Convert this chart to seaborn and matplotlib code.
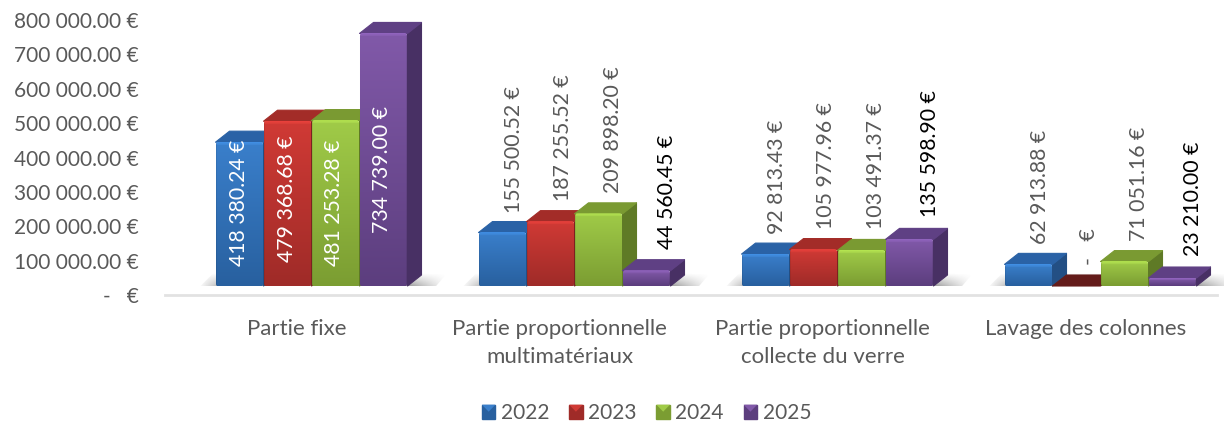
import numpy as np
import pandas as pd
import seaborn as sns
import matplotlib
matplotlib.use("Agg")
import matplotlib.pyplot as plt
from matplotlib.patches import Polygon, Patch, FancyBboxPatch
from matplotlib.transforms import IdentityTransform
from matplotlib.colors import to_rgb

# ---- data ----
categories = ["Partie fixe", "Partie proportionnelle\nmultimatériaux",
              "Partie proportionnelle\ncollecte du verre", "Lavage des colonnes"]
years = ["2022", "2023", "2024", "2025"]
values_2022 = [418380.24, 155500.52, 92813.43, 62913.88]
values_2023 = [479368.68, 187255.52, 105977.96, 0.0]
values_2024 = [481253.28, 209898.20, 103491.37, 71051.16]
values_2025 = [734739.00, 44560.45, 135598.90, 23210.00]
y_ticks = [0, 100000, 200000, 300000, 400000, 500000, 600000, 700000, 800000]

# ---- styles ----
front_top = ["#3a7fcb", "#d03a35", "#a0cb48", "#8159a9"]
front_bot = ["#28609f", "#9f2b28", "#7b9d32", "#5c3e7e"]
top_col = ["#2a62a6", "#a32c28", "#7a9a32", "#5f4084"]
side_col = ["#234f84", "#7c211f", "#5f7a26", "#483064"]
grey = "#595959"
FONT = ["Lato", "DejaVu Sans"]
plt.rcParams["font.family"] = FONT

W, H = 1224, 425
DX, DY = 14, 11


def frac(l, t, r, b):
    return [l / W, 1 - b / H, (r - l) / W, (b - t) / H]


def fmt(v):
    if v == 0:
        return "-   €"
    return f"{v:,.2f}".replace(",", " ") + " €"


df = pd.DataFrame({
    "cat": categories * 4,
    "year": np.repeat(years, 4),
    "value": values_2022 + values_2023 + values_2024 + values_2025,
})

sns.set_theme(style="white")
plt.rcParams["font.family"] = FONT
fig = plt.figure(figsize=(W / 100, H / 100), dpi=100, facecolor="white")

# Base axis: ticks, category labels, floor line
base = fig.add_axes(frac(165, 20, 1217, 295))
base.set_xlim(-0.5, 3.5)
base.set_ylim(0, 800000)
base.set_yticks(y_ticks)
base.set_yticklabels([fmt(v) for v in y_ticks], fontsize=15, color=grey)
base.set_xticks(range(4))
base.set_xticklabels(categories, fontsize=16, color=grey, linespacing=1.5)
base.tick_params(axis="y", length=0, pad=19)
base.tick_params(axis="x", length=0, pad=17)
for s in ("top", "left", "right"):
    base.spines[s].set_visible(False)
base.spines["bottom"].set_color("#e2e2e2")
base.spines["bottom"].set_linewidth(2)

# Bars axis: front faces, shifted like the 3D floor
ax = fig.add_axes(frac(180, 11, 1232, 286))
ax.patch.set_alpha(0)
ax.set_axis_off()
sns.barplot(data=df, x="cat", y="value", hue="year", order=categories, hue_order=years,
            palette=front_top, width=0.73, gap=0, saturation=1, legend=False, ax=ax, zorder=3)
ax.set_xlim(-0.5, 3.5)
ax.set_ylim(0, 800000)
fig.canvas.draw()

to_px = ax.transData.transform
to_data = ax.transData.inverted().transform
bars = [p for c in ax.containers for p in c.patches]

# Floor shadows behind each group
for g in range(4):
    grp = [bars[g + 4 * s] for s in range(4)]
    x0 = to_px((grp[0].get_x(), 0))[0]
    x1 = to_px((grp[-1].get_x() + grp[-1].get_width(), 0))[0]
    y0 = to_px((0, 0))[1]
    pts = np.array([[x0 - 18, y0 - 3], [x1 + 26, y0 - 3], [x1 + 40, y0 + 13], [x0 - 2, y0 + 13]])
    nx, ny = 120, 20
    rgba = np.zeros((ny, nx, 4))
    rgba[..., :3] = 0.3
    vert = np.linspace(0.0, 0.85, ny)[:, None]
    ramp = np.clip(np.linspace(0, 1, nx) * 7, 0, 1) * np.clip(np.linspace(1, 0, nx) * 5, 0, 1)
    rgba[..., 3] = vert * ramp[None, :]
    (ax0, ay0) = to_data((pts[:, 0].min(), pts[:, 1].min()))
    (ax1, ay1) = to_data((pts[:, 0].max(), pts[:, 1].max()))
    im = ax.imshow(rgba, extent=(ax0, ax1, ay0, ay1), aspect="auto", zorder=1,
                   interpolation="bilinear")
    clip = Polygon(pts, closed=True, transform=IdentityTransform(), facecolor="none", edgecolor="none")
    im.set_clip_path(clip)

# 3D faces and gradient fronts
for s in range(4):
    for g in range(4):
        p = bars[g + 4 * s]
        z = 4 + s * 4
        xa, ya = to_px((p.get_x(), 0))
        xb, yb = to_px((p.get_x() + p.get_width(), p.get_height()))
        p.set_zorder(z)
        tc = top_col[s] if p.get_height() > 0 else "#641c1a"
        top = Polygon([(xa, yb), (xb, yb), (xb + DX, yb + DY), (xa + DX, yb + DY)],
                      closed=True, transform=IdentityTransform(), facecolor=tc,
                      edgecolor=tc, linewidth=0.8, joinstyle="round", zorder=z + 0.2, clip_on=False)
        side = Polygon([(xb, ya), (xb + DX, ya + DY), (xb + DX, yb + DY), (xb, yb)],
                       closed=True, transform=IdentityTransform(), facecolor=side_col[s],
                       edgecolor=side_col[s], linewidth=0.8, joinstyle="round", zorder=z + 0.1, clip_on=False)
        if p.get_height() > 0:
            ax.add_patch(side)
        ax.add_patch(top)
        h = int(round(yb - ya))
        if h > 0:
            w = max(int(round(xb - xa)), 2)
            t = np.linspace(0, 1, h)[:, None, None]
            c = np.array(to_rgb(front_top[s]))[None, None, :] * (1 - t) + \
                np.array(to_rgb(front_bot[s]))[None, None, :] * t
            c = np.repeat(c, w, axis=1)
            bevel = min(3, h // 3)
            for i in range(bevel):
                c[i, :, :] = np.clip(c[i, :, :] * (1.12 - i * 0.03), 0, 1)
            c[:, 0, :] *= 0.92
            c[:, -1, :] *= 0.92
            im = ax.imshow(c, extent=(p.get_x(), p.get_x() + p.get_width(), 0, p.get_height()),
                           aspect="auto", zorder=z + 0.3, interpolation="bilinear")
            clip = FancyBboxPatch((xa + 2, ya + 1), xb - xa - 4, yb - ya - 2,
                                  boxstyle="round,pad=1.5,rounding_size=2.5",
                                  transform=IdentityTransform(), facecolor="none", edgecolor="none")
            im.set_clip_path(clip)
            p.set_visible(False)
ax.set_xlim(-0.5, 3.5)
ax.set_ylim(0, 800000)

# Data labels
inside_shift = [-11, -5, 0, 10]  # px offset of the label from the front face's centre
outside_dx = [11, 12, 15, 21]
outside_gap = [9, 10, 10, 11]
for s in range(4):
    for g in range(4):
        p = bars[g + 4 * s]
        xa, ya = to_px((p.get_x(), 0))
        xb, yb = to_px((p.get_x() + p.get_width(), p.get_height()))
        txt = fmt(p.get_height())
        cx = (xa + xb) / 2
        if g == 0:
            ax.text(cx - 1, (ya + yb) / 2 - inside_shift[s], txt, rotation=90, ha="center",
                    va="center", color="white", fontsize=15.3,
                    transform=IdentityTransform(), zorder=50)
        else:
            col = "black" if s == 3 else grey
            ax.text(cx + outside_dx[s], yb + DY + outside_gap[s], txt, rotation=90, ha="center",
                    va="bottom", color=col, fontsize=15.3,
                    transform=IdentityTransform(), zorder=50)

# Legend
handles = [Patch(facecolor=front_bot[i], edgecolor=front_bot[i], label=years[i]) for i in range(4)]
leg = fig.legend(handles=handles, loc="center", bbox_to_anchor=(646.5 / W, 1 - 413 / H), ncol=4,
                 frameon=False, fontsize=15, handlelength=0.65, handleheight=0.65,
                 handletextpad=0.26, columnspacing=0.95, labelcolor=grey)
fig.canvas.draw()
for i, lp in enumerate(leg.get_patches()):
    b = lp.get_window_extent()
    tri = Polygon([(b.x0, b.y1), (b.x1, b.y1), ((b.x0 + b.x1) / 2, (b.y0 + b.y1) / 2)], closed=True,
                  transform=IdentityTransform(), facecolor=front_top[i], edgecolor="none", zorder=10)
    fig.add_artist(tri)

fig.savefig("out.png", dpi=100, facecolor="white")
